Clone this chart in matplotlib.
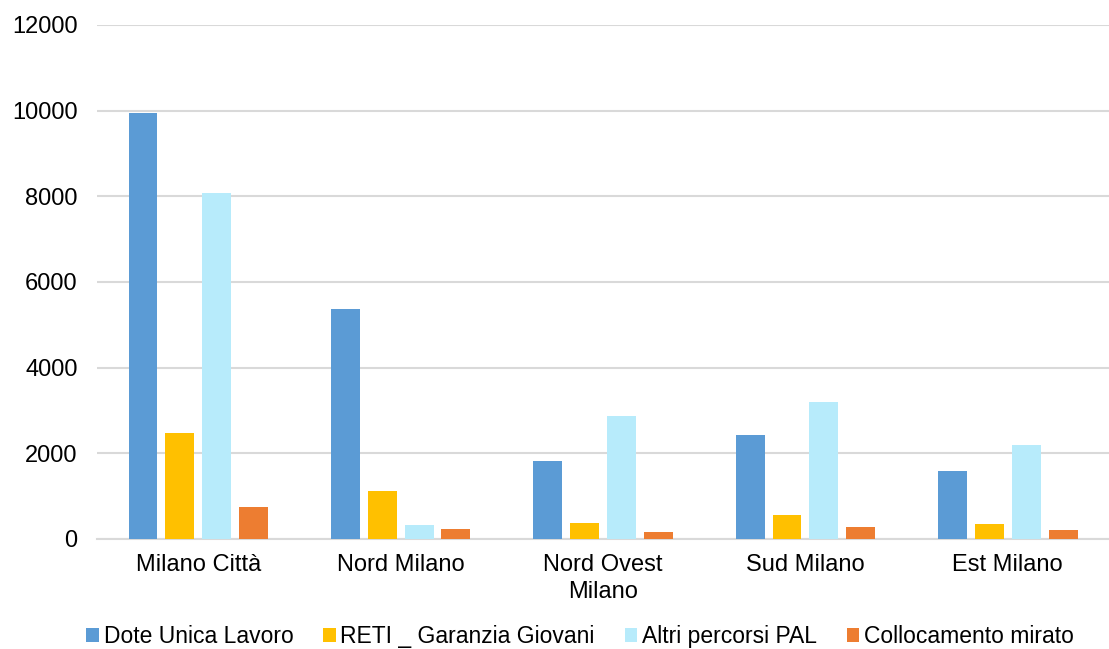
import matplotlib.pyplot as plt
import numpy as np

plt.rcParams['font.family'] = ['Liberation Sans', 'DejaVu Sans']

zone = ['Milano Città', 'Nord Milano', 'Nord Ovest\nMilano', 'Sud Milano', 'Est Milano']
dote = [9950, 5370, 1830, 2420, 1590]
reti = [2470, 1120, 375, 555, 350]
altri = [8080, 330, 2870, 3200, 2195]
collocamento = [745, 235, 170, 280, 210]

serie = [
	('Dote Unica Lavoro', dote, '#5B9BD5'),
	('RETI _ Garanzia Giovani', reti, '#FFC000'),
	('Altri percorsi PAL', altri, '#B7EBFB'),
	('Collocamento mirato', collocamento, '#ED7D31'),
]

fig = plt.figure(figsize=(11.09, 6.49), dpi=100)
ax = fig.add_axes([0.0875, 0.1695, 0.9125, 0.792])

x = np.arange(len(zone))
w = 0.143
step = 0.182
for i, (nome, valori, colore) in enumerate(serie):
	ax.bar(x + (i - 1.5) * step, valori, w, color=colore, label=nome, zorder=3)

ax.set_xlim(-0.5, len(zone) - 0.5)
ax.set_ylim(0, 12000)
ax.set_yticks(range(0, 12001, 2000))
ax.set_xticks(x)
ax.set_xticklabels(zone, fontsize=17, linespacing=1.25)
ax.tick_params(axis='y', labelsize=17, length=0, pad=14)
ax.tick_params(axis='x', length=0, pad=11)
ax.grid(axis='y', color='#d9d9d9', linewidth=1.5, zorder=0)
for s in ['top', 'right', 'left']:
	ax.spines[s].set_visible(False)
ax.spines['bottom'].set_color('#d9d9d9')
ax.spines['bottom'].set_linewidth(1.5)

fig.legend(loc='lower center', bbox_to_anchor=(0.523, -0.03), ncol=4, frameon=False,
	fontsize=16.5, handlelength=0.55, handleheight=0.55, handletextpad=0.2, columnspacing=1.3)

fig.savefig('out.png', dpi=100)
